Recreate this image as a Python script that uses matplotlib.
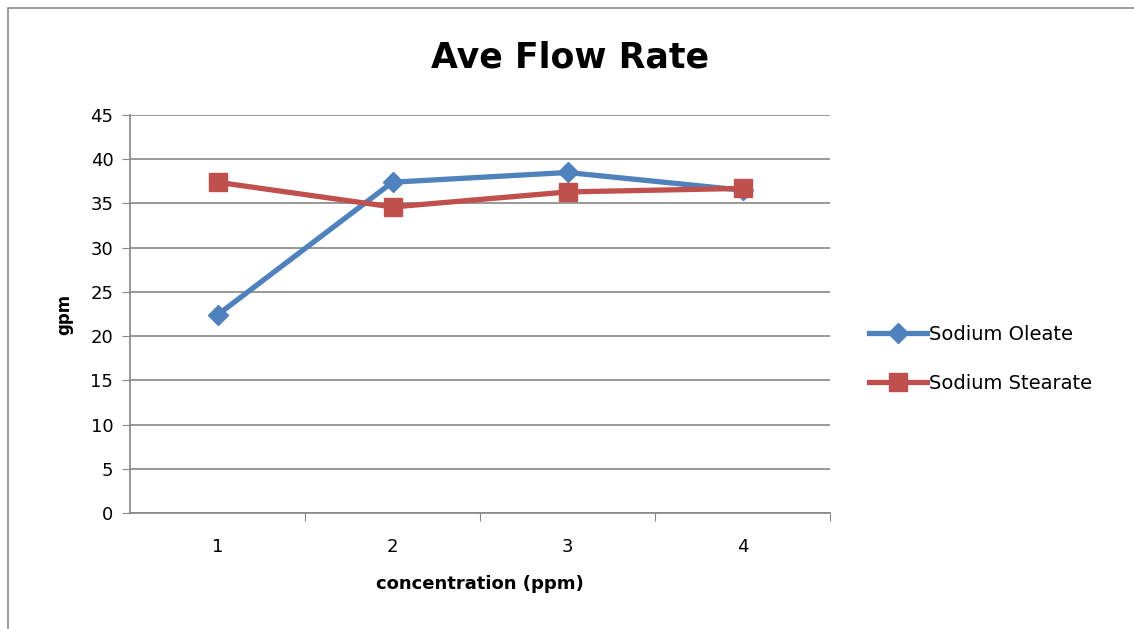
import matplotlib.pyplot as plt
from matplotlib.patches import Rectangle

concentration = [1, 2, 3, 4]
oleate = [22.4, 37.4, 38.5, 36.5]
stearate = [37.4, 34.6, 36.3, 36.7]

blue = '#4F81BD'
red = '#C0504D'
grid_c = '#868686'

fig = plt.figure(figsize=(11.34, 6.29), dpi=100)
ax = fig.add_axes([130/1134, 1 - 513/629, 700/1134, 398/629])

# chart area frame
fig.patches.append(Rectangle((8/1134, -0.1), 1.2, (629 - 8)/629 + 0.1,
                             transform=fig.transFigure, fill=False,
                             edgecolor='#8c8c8c', lw=1.2))

ax.plot(concentration, oleate, color=blue, lw=3.8, marker='D', ms=10,
        label='Sodium Oleate', zorder=3)
ax.plot(concentration, stearate, color=red, lw=3.8, marker='s', ms=13,
        label='Sodium Stearate', zorder=4)

ax.set_xlim(0.5, 4.5)
ax.set_ylim(0, 45)
ax.set_yticks(range(0, 46, 5))
ax.set_xticks([1.5, 2.5, 3.5, 4.5], minor=False)
ax.set_xticklabels([])
ax.set_xticks(concentration, minor=True)
ax.set_xticklabels([str(c) for c in concentration], minor=True)
ax.tick_params(axis='x', which='minor', length=0, pad=18, labelsize=13)
ax.tick_params(axis='x', which='major', length=6, color=grid_c)
ax.tick_params(axis='y', length=6, color=grid_c, labelsize=13, pad=6)

ax.grid(axis='y', color=grid_c, lw=1.2)
ax.set_axisbelow(True)
for s in ['top', 'right']:
    ax.spines[s].set_visible(False)
ax.spines['left'].set_color(grid_c)
ax.spines['bottom'].set_color(grid_c)
ax.spines['left'].set_linewidth(1.2)
ax.spines['bottom'].set_linewidth(1.2)

fig.text(570/1134, 1 - 58/629, 'Ave Flow Rate', fontsize=25,
         fontweight='bold', ha='center', va='center')
ax.set_xlabel('concentration (ppm)', fontsize=13, fontweight='bold', labelpad=14)
ax.set_ylabel('gpm', fontsize=12, fontweight='bold', labelpad=12)

ax.legend(loc='center left', bbox_to_anchor=(1.03, 0.387), frameon=False,
          fontsize=14, handlelength=3.0, handletextpad=0.1, labelspacing=1.55)

plt.savefig('out.png', dpi=100)
